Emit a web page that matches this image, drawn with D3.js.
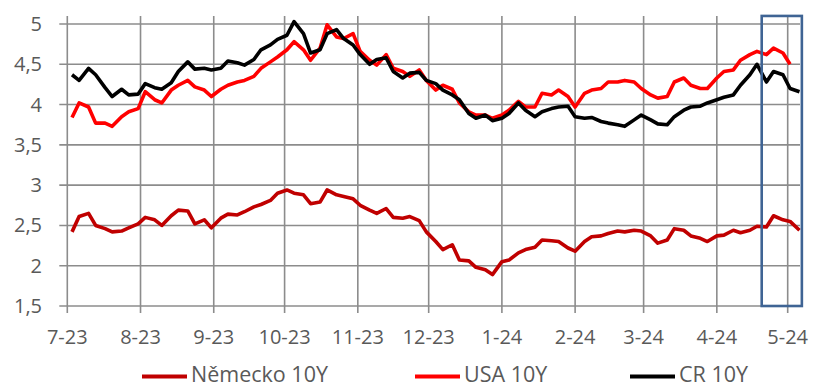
<!DOCTYPE html>
<html>
<head>
<meta charset="utf-8">
<script src="https://cdn.jsdelivr.net/npm/d3@7"></script>
<style>
  body { margin: 0; background: #fff; }
  svg { display: block; font-family: "Open Sans", sans-serif; }
</style>
</head>
<body>
<div id="chart"></div>
<script>
const width = 813,
    height = 388;

// observation dates (Mon / Thu grid)
const dates = [
  "2023-07-03","2023-07-06","2023-07-10","2023-07-13","2023-07-17","2023-07-20","2023-07-24","2023-07-27","2023-07-31",
  "2023-08-03","2023-08-07","2023-08-10","2023-08-14","2023-08-17","2023-08-21","2023-08-24","2023-08-28","2023-08-31",
  "2023-09-04","2023-09-07","2023-09-11","2023-09-14","2023-09-18","2023-09-21","2023-09-25","2023-09-28",
  "2023-10-02","2023-10-05","2023-10-09","2023-10-12","2023-10-16","2023-10-19","2023-10-23","2023-10-26","2023-10-30",
  "2023-11-02","2023-11-06","2023-11-09","2023-11-13","2023-11-16","2023-11-20","2023-11-23","2023-11-27","2023-11-30",
  "2023-12-04","2023-12-07","2023-12-11","2023-12-14","2023-12-18","2023-12-21","2023-12-25","2023-12-28",
  "2024-01-01","2024-01-04","2024-01-08","2024-01-11","2024-01-15","2024-01-18","2024-01-22","2024-01-25","2024-01-29",
  "2024-02-01","2024-02-05","2024-02-08","2024-02-12","2024-02-15","2024-02-19","2024-02-22","2024-02-26","2024-02-29",
  "2024-03-04","2024-03-07","2024-03-11","2024-03-14","2024-03-18","2024-03-21","2024-03-25","2024-03-28",
  "2024-04-01","2024-04-04","2024-04-08","2024-04-11","2024-04-15","2024-04-18","2024-04-22","2024-04-25","2024-04-29",
  "2024-05-02","2024-05-06"
];

const nemecko = [
  2.42,2.61,2.65,2.50,2.46,2.42,2.43,2.47,2.52,
  2.60,2.57,2.50,2.62,2.69,2.68,2.52,2.57,2.47,
  2.59,2.64,2.63,2.67,2.73,2.76,2.81,2.90,
  2.94,2.90,2.88,2.77,2.79,2.94,2.88,2.86,2.83,
  2.75,2.69,2.65,2.71,2.60,2.59,2.61,2.56,2.42,
  2.30,2.20,2.26,2.07,2.06,1.98,1.95,1.89,
  2.05,2.07,2.16,2.20,2.23,2.32,2.31,2.30,2.22,
  2.18,2.30,2.36,2.37,2.40,2.43,2.42,2.44,2.43,
  2.37,2.28,2.32,2.46,2.44,2.37,2.34,2.30,
  2.37,2.38,2.44,2.41,2.44,2.49,2.48,2.62,2.57,
  2.55,2.44
];

const usa = [
  3.84,4.02,3.97,3.77,3.77,3.73,3.85,3.91,3.95,
  4.16,4.06,4.02,4.18,4.24,4.30,4.22,4.18,4.10,
  4.19,4.24,4.28,4.30,4.35,4.45,4.53,4.59,
  4.68,4.78,4.68,4.55,4.70,4.99,4.84,4.82,4.88,
  4.66,4.55,4.49,4.62,4.45,4.41,4.35,4.43,4.30,
  4.18,4.24,4.19,4.02,3.91,3.87,3.87,3.83,
  3.87,3.93,4.04,3.97,3.97,4.14,4.12,4.18,4.10,
  3.97,4.14,4.18,4.20,4.28,4.28,4.30,4.28,4.20,
  4.12,4.08,4.10,4.28,4.33,4.24,4.20,4.20,
  4.33,4.41,4.43,4.55,4.62,4.66,4.62,4.70,4.64,
  4.50,null
];

const cr = [
  4.37,4.30,4.45,4.37,4.21,4.10,4.19,4.12,4.13,
  4.26,4.21,4.19,4.27,4.41,4.53,4.44,4.45,4.43,
  4.45,4.54,4.52,4.49,4.56,4.68,4.74,4.81,
  4.86,5.03,4.88,4.64,4.68,4.88,4.93,4.82,4.74,
  4.62,4.50,4.56,4.58,4.41,4.33,4.39,4.40,4.30,
  4.26,4.18,4.12,4.06,3.89,3.83,3.87,3.80,
  3.83,3.89,4.02,3.93,3.85,3.91,3.95,3.97,3.98,
  3.85,3.83,3.84,3.79,3.77,3.75,3.73,3.81,3.87,
  3.81,3.76,3.75,3.85,3.93,3.97,3.98,4.02,
  4.06,4.09,4.12,4.24,4.37,4.50,4.28,4.41,4.37,
  4.20,4.16
];

const seriesNames = ["Německo 10Y", "USA 10Y", "CR 10Y"];
const seriesColors = ["#c00000", "#ff0000", "#000000"];
const yTicks = [1.5, 2, 2.5, 3, 3.5, 4, 4.5, 5];
const highlightRange = ["2024-04-20", "2024-05-07"];

const parse = d3.timeParse("%Y-%m-%d");
const fmtY = d => d3.format(".1~f")(d).replace(".", ",");

const x = d3.scaleTime()
    .domain([parse("2023-07-01"), parse("2024-05-06")])
    .range([67.3, 799.5]);
const y = d3.scaleLinear().domain([1.5, 5]).range([306, 24]);

const plotTop = y(5.1),
    plotBottom = y(1.5),
    plotLeft = x.range()[0],
    plotRight = 800;

const svg = d3.select("#chart").append("svg")
    .attr("width", width)
    .attr("height", height);

const gridColor = "#8c8c8c";

// horizontal grid + y labels
const yg = svg.append("g");
yg.selectAll("line").data(yTicks).enter().append("line")
    .attr("x1", plotLeft - 8).attr("x2", plotRight)
    .attr("y1", d => y(d)).attr("y2", d => y(d))
    .attr("stroke", gridColor).attr("stroke-width", 1.6);
yg.selectAll("text").data(yTicks).enter().append("text")
    .attr("x", 42).attr("y", d => y(d)).attr("dy", "0.35em")
    .attr("text-anchor", "end")
    .attr("fill", "#595959").attr("font-size", 20)
    .text(fmtY);

// vertical grid + x labels
const months = d3.timeMonth.range(parse("2023-07-01"), parse("2024-05-02"));
const xg = svg.append("g");
xg.selectAll("line").data(months).enter().append("line")
    .attr("x1", d => x(d)).attr("x2", d => x(d))
    .attr("y1", plotTop).attr("y2", plotBottom + 7)
    .attr("stroke", gridColor).attr("stroke-width", 1.6);
xg.selectAll("text").data(months).enter().append("text")
    .attr("x", d => x(d)).attr("y", 344)
    .attr("text-anchor", "middle")
    .attr("fill", "#595959").attr("font-size", 20)
    .text(d3.timeFormat("%-m-%y"));

// lines
const series = [nemecko, usa, cr];
const line = d3.line()
    .defined(d => d.v != null)
    .x(d => x(d.date))
    .y(d => y(d.v));

series.forEach((vals, i) => {
    const pts = dates.map((d, j) => ({date: parse(d), v: vals[j]}));
    svg.append("path")
        .datum(pts)
        .attr("fill", "none")
        .attr("stroke", seriesColors[i])
        .attr("stroke-width", 3.6)
        .attr("stroke-linejoin", "round")
        .attr("d", line);
});

// highlight box
svg.append("rect")
    .attr("x", x(parse(highlightRange[0])))
    .attr("y", plotTop)
    .attr("width", x(parse(highlightRange[1])) - x(parse(highlightRange[0])))
    .attr("height", plotBottom - plotTop)
    .attr("fill", "none")
    .attr("stroke", "#3f6494")
    .attr("stroke-width", 2.6);

// legend
const legendX = [142, 415, 630];
const lg = svg.append("g");
seriesNames.forEach((name, i) => {
    lg.append("line")
        .attr("x1", legendX[i]).attr("x2", legendX[i] + 45)
        .attr("y1", 376.5).attr("y2", 376.5)
        .attr("stroke", seriesColors[i]).attr("stroke-width", 4);
    lg.append("text")
        .attr("x", legendX[i] + 49).attr("y", 382)
        .attr("fill", "#595959").attr("font-size", 21.5)
        .text(name);
});
</script>
</body>
</html>
